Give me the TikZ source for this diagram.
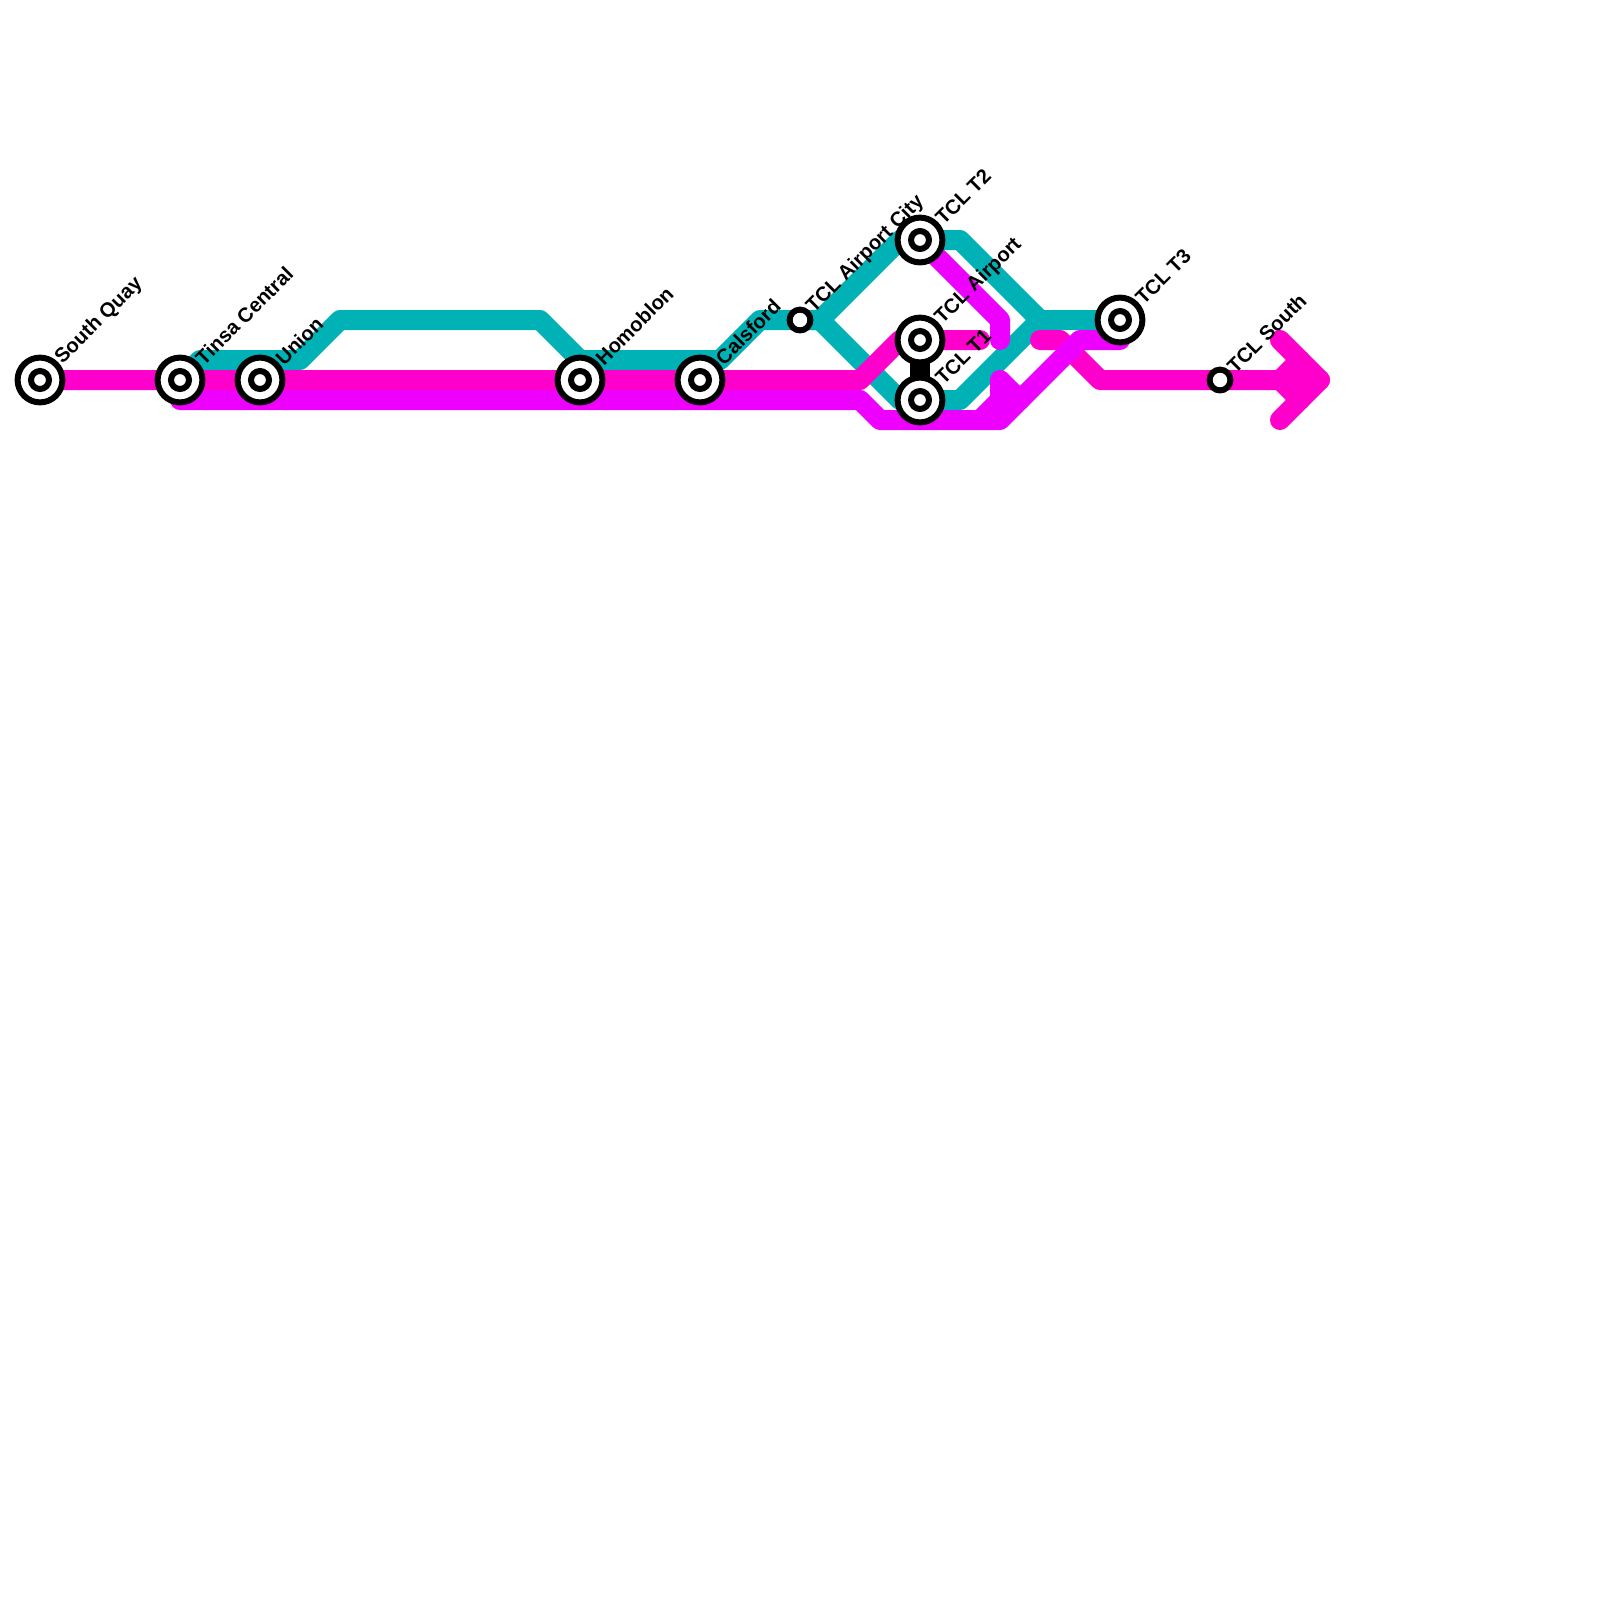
\documentclass[tikz,border=0pt]{standalone}
\usepackage{fontspec}
\setmainfont{Liberation Sans}
\usetikzlibrary{positioning, backgrounds}
\definecolor{linepink}{HTML}{FF00CC}
\definecolor{linepurple}{HTML}{EE00FF}
\definecolor{lineteal}{HTML}{00B2B5}
\tikzset{
  stopname/.style={
    rotate=45, anchor=west, inner sep=0pt, outer sep=1pt, text=black,
    font=\fontsize{14.4pt}{16pt}\selectfont\bfseries
  },
  stopdot/.style={
    circle, draw=black, fill=white, line width=1.5mm,
    minimum size=5.2mm, inner sep=0pt
  },
  hub/.style={
    circle, draw=black, fill=white, line width=1.5mm,
    minimum size=11.2mm, inner sep=0pt,
    path picture={
      \draw[line width=1.5mm, fill=white] (path picture bounding box.center) circle (2.25mm);
    }
  },
  route/.style={line width=5mm, line cap=round, line join=round},
}

\begin{document}
\begin{tikzpicture}[x=1cm, y=-1cm, on grid]
    \useasboundingbox (0,0) rectangle (40,40);

    \node[hub, label={[stopname]45:South Quay}] (southquay) at (1,9.5) {};
    \node[hub, right=3.5cm of southquay, label={[stopname]45:Tinsa Central}] (tinsa) {};
    \node[hub, right=2cm of tinsa, label={[stopname]45:Union}] (union) {};
    \node[hub, right=8cm of union, label={[stopname]45:Homoblon}] (homoblon) {};
    \node[hub, right=3cm of homoblon, label={[stopname]45:Calsford}] (calsford) {};
    \node[stopdot, above right=1.5cm and 2.5cm of calsford, label={[stopname]45:TCL Airport City}] (airportcity) {};
    \node[hub, above right=2cm and 3cm of airportcity, label={[stopname]45:TCL T2}] (tclttwo) {};
    \node[hub, below=2.5cm of tclttwo, label={[stopname]45:TCL Airport}] (tclairport) {};
    \node[hub, below=1.5cm of tclairport, label={[stopname]45:TCL T1}] (tcltone) {};
    \node[hub, right=5cm of tclttwo, yshift=-2cm, label={[stopname]45:TCL T3}] (tcltthree) {};
    \node[stopdot, below right=1.5cm and 2.5cm of tcltthree, label={[stopname]45:TCL South}] (tclsouth) {};

    \coordinate (pinkend) at (24.5,8.5);
    \coordinate (pinkrestart) at (26,8.5);
    \coordinate (arrowup) at (32,8.5);
    \coordinate (arrowtip) at (33,9.5);
    \coordinate (arrowdown) at (32,10.5);
    \coordinate (arrowback) at (32,9.5);
    \coordinate (purplestart) at (25,8.5);
    \coordinate (purplestub) at (25,9.5);
    \coordinate (tealjoin) at (26,8);

    \begin{scope}[on background layer]
      \draw[route, lineteal] (tinsa.center) -- (5,9) -- (7.5,9) -- (8.5,8) -- (13.5,8) -- (14.5,9)
        -- (18,9) -- (19,8) -- (airportcity.center) -- (20.5,8) -- (22.5,6) -- (tclttwo.center)
        -- (24,6) -- (tealjoin) -- (tcltthree.center);
      \draw[route, lineteal] (airportcity.center) -- (20.5,8) -- (22.5,10) -- (tcltone.center)
        -- (24,10) -- (tealjoin);

      \draw[route, linepink] (southquay.center) -- (21.5,9.5) -- (22.5,8.5) -- (tclairport.center) -- (pinkend);
      \draw[route, linepink] (pinkrestart) -- (26.5,8.5) -- (27.5,9.5) -- (tclsouth.center) -- (arrowtip);
      \draw[route, linepink] (arrowup) -- (arrowtip) -- (arrowdown);
      \draw[route, linepink] (arrowback) -- (32.5,9);
      \draw[route, linepink] (arrowback) -- (32.5,10);

      \draw[route, linepurple] (tinsa.center) ++(0,0.5) -- (21.5,10) -- (22,10.5) -- (24.5,10.5)
        -- (25,10) -- (purplestub) -- (25.5,10);
      \draw[route, linepurple] (24.5,10.5) -- (25,10.5) -- (27,8.5) -- (28,8.5);
      \draw[route, linepurple] (tclttwo.center) -- (25,8) -- (purplestart);

      \draw[line width=5mm, black] (tclairport.center) -- (tcltone.center);
    \end{scope}
  \end{tikzpicture}
\end{document}
